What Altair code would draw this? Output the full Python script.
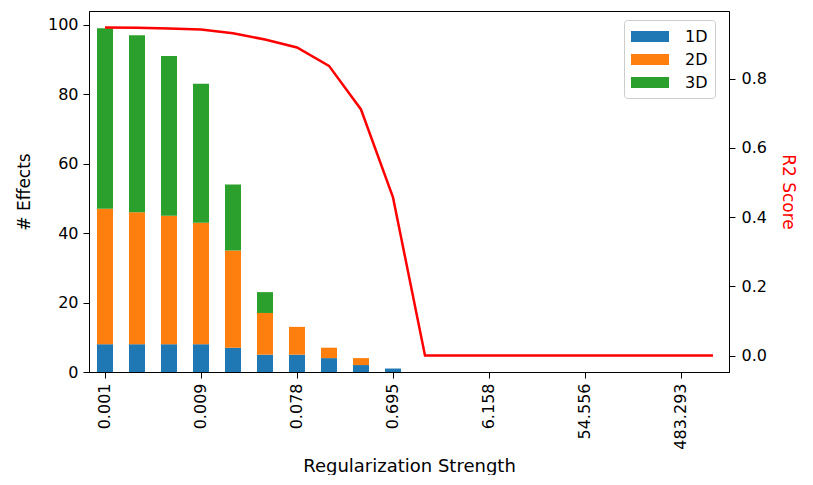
import altair as alt
import pandas as pd

# x categories (regularization strengths, logspace labels)
strengths = ["0.001", "0.002", "0.004", "0.009", "0.018", "0.038", "0.078",
             "0.162", "0.336", "0.695", "1.438", "2.976", "6.158", "12.743",
             "26.367", "54.556", "112.884", "233.572", "483.293", "1000.0"]
shown_labels = ["0.001", "0.009", "0.078", "0.695", "6.158", "54.556", "483.293"]

effects_1d = [8, 8, 8, 8, 7, 5, 5, 4, 2, 1, 0, 0, 0, 0, 0, 0, 0, 0, 0, 0]
effects_2d = [39, 38, 37, 35, 28, 12, 8, 3, 2, 0, 0, 0, 0, 0, 0, 0, 0, 0, 0, 0]
effects_3d = [52, 51, 46, 40, 19, 6, 0, 0, 0, 0, 0, 0, 0, 0, 0, 0, 0, 0, 0, 0]
r2_score = [0.948, 0.947, 0.945, 0.942, 0.931, 0.913, 0.890, 0.837, 0.711,
            0.457, 0.0, 0.0, 0.0, 0.0, 0.0, 0.0, 0.0, 0.0, 0.0, 0.0]

series_names = ["1D", "2D", "3D"]
series_colors = ["#1f77b4", "#ff7f0e", "#2ca02c"]

rows = []
for name, vals in zip(series_names, [effects_1d, effects_2d, effects_3d]):
    for s, v in zip(strengths, vals):
        if v > 0:
            rows.append({"strength": s, "series": name, "count": v,
                         "order": series_names.index(name)})
bars_df = pd.DataFrame(rows)
line_df = pd.DataFrame({"strength": strengths, "r2": r2_score})

FONT = "DejaVu Sans"

x_enc = alt.X("strength:N", sort=strengths,
              scale=alt.Scale(paddingInner=0.5, paddingOuter=0.25),
              axis=alt.Axis(title="Regularization Strength", values=shown_labels,
                            labelAngle=270, labelFontSize=16, titleFontSize=18,
                            labelPadding=5, titlePadding=8, tickSize=6, grid=False,
                            labelColor="black", titleColor="black",
                            domainColor="black", tickColor="black",
                            titleFontWeight="normal"))

bars = alt.Chart(bars_df).mark_bar().encode(
    x=x_enc,
    y=alt.Y("count:Q", stack="zero",
            scale=alt.Scale(domain=[0, 103.95], nice=False),
            axis=alt.Axis(title="# Effects", values=[0, 20, 40, 60, 80, 100],
                          labelFontSize=16, titleFontSize=17, tickSize=6,
                          labelPadding=5, titlePadding=14, grid=False,
                          labelColor="black", titleColor="black",
                          domainColor="black", tickColor="black",
                          titleFontWeight="normal")),
    color=alt.Color("series:N", sort=series_names,
                    scale=alt.Scale(domain=series_names, range=series_colors),
                    legend=alt.Legend(title=None, orient="none", legendX=535, legendY=9,
                                      symbolType="M-1,-0.58H3V0.58H-1Z",
                                      symbolSize=361, symbolStrokeWidth=0,
                                      labelFontSize=16, labelColor="black",
                                      labelOffset=35, padding=7, rowPadding=5,
                                      strokeColor="#cccccc", fillColor="white",
                                      cornerRadius=3)),
    order=alt.Order("order:Q", sort="ascending"),
)

line = alt.Chart(line_df).mark_line(color="#ff0000", strokeWidth=2.5).encode(
    x=alt.X("strength:N", sort=strengths),
    y=alt.Y("r2:Q", scale=alt.Scale(domain=[-0.0474, 0.9954], nice=False, zero=False),
            axis=alt.Axis(title="R2 Score", orient="right",
                          values=[0.0, 0.2, 0.4, 0.6, 0.8], format=".1f",
                          labelFontSize=16, titleFontSize=17, tickSize=6,
                          labelPadding=6, titlePadding=12, grid=False,
                          labelColor="black", titleColor="#ff0000",
                          domainColor="black", tickColor="black",
                          titleFontWeight="normal")),
)

chart = (
    alt.layer(bars, line)
    .resolve_scale(y="independent")
    .properties(
        width=640, height=361,
        autosize=alt.AutoSizeParams(type="none"),
        padding={"left": 81, "top": 3, "right": 74, "bottom": 103},
    )
    .configure(font=FONT)
    .configure_view(stroke="black", strokeWidth=1)
    .configure_axis(grid=False, labelFont=FONT, titleFont=FONT)
    .configure_legend(labelFont=FONT)
)

chart.save("out.html", embed_options={"renderer": "svg", "actions": False})
